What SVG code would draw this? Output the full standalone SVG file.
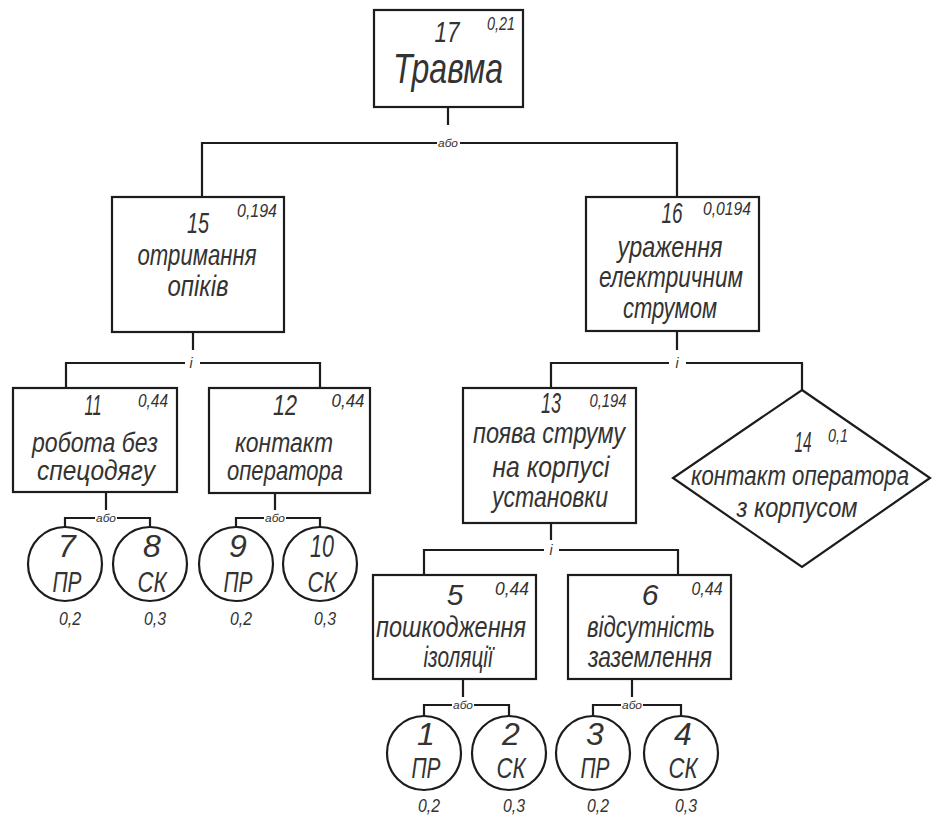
<svg xmlns="http://www.w3.org/2000/svg" width="934" height="816" viewBox="0 0 934 816">
  <style>
    .box { fill: #fff; stroke: #1c1c1c; stroke-width: 2.2; }
    .wire { fill: none; stroke: #1c1c1c; stroke-width: 2.2; }
    text { font-family: "Liberation Sans", "DejaVu Sans", sans-serif; font-style: italic; fill: #333; text-anchor: middle; }
    .num { font-size: 30px; }
    .cn { font-size: 32px; }
    .lbl { font-size: 29px; }
    .sm { font-size: 27px; }
    .p { font-size: 18px; }
    .pc { font-size: 19px; }
    .gate { font-size: 11px; }
    .and { font-size: 14px; }
  </style>
  <rect width="934" height="816" fill="#fff"/>

  <!-- connectors and gate labels -->
  <g id="connectors">
    <path class="wire" d="M448,107 V125 M202,197 V143 H437 M460,143 H677 V197"/>
    <text class="gate" x="448" y="147" textLength="20" lengthAdjust="spacingAndGlyphs">або</text>

    <path class="wire" d="M193,332 V350 M66,388 V363 H185 M200,363 H320 V388"/>
    <text class="and" x="191" y="368">і</text>

    <path class="wire" d="M677,331 V350 M551,388 V363 H669 M686,363 H802 V390"/>
    <text class="and" x="677" y="368">і</text>

    <path class="wire" d="M551,523 V540 M424,575 V550 H544 M559,550 H678 V575"/>
    <text class="and" x="551" y="555">і</text>

    <path class="wire" d="M106,492 V510 M65,527 V518 H95 M117,518 H150 V527"/>
    <text class="gate" x="106" y="522" textLength="20" lengthAdjust="spacingAndGlyphs">або</text>

    <path class="wire" d="M275,493 V510 M236,527 V518 H264 M286,518 H320 V527"/>
    <text class="gate" x="275" y="522" textLength="20" lengthAdjust="spacingAndGlyphs">або</text>

    <path class="wire" d="M463,679 V697 M424,716 V705 H452 M474,705 H509 V716"/>
    <text class="gate" x="463" y="709" textLength="20" lengthAdjust="spacingAndGlyphs">або</text>

    <path class="wire" d="M632,679 V697 M593,716 V705 H621 M643,705 H681 V716"/>
    <text class="gate" x="632" y="709" textLength="20" lengthAdjust="spacingAndGlyphs">або</text>
  </g>

  <!-- top event -->
  <g id="n17">
    <rect class="box" x="374" y="10" width="149" height="97"/>
    <text class="num" x="447" y="42" textLength="25" lengthAdjust="spacingAndGlyphs">17</text>
    <text class="p" x="501" y="30" font-size="17" textLength="28" lengthAdjust="spacingAndGlyphs">0,21</text>
    <text x="448" y="83" font-size="42" textLength="110" lengthAdjust="spacingAndGlyphs">Травма</text>
  </g>

  <g id="n15">
    <rect class="box" x="112" y="197" width="172" height="135"/>
    <text class="num" x="198" y="233" textLength="22" lengthAdjust="spacingAndGlyphs">15</text>
    <text class="p" x="257" y="217" textLength="40" lengthAdjust="spacingAndGlyphs">0,194</text>
    <text class="lbl" x="197" y="265" textLength="119" lengthAdjust="spacingAndGlyphs">отримання</text>
    <text class="lbl" x="198" y="296" textLength="61" lengthAdjust="spacingAndGlyphs">опіків</text>
  </g>

  <g id="n16">
    <rect class="box" x="586" y="197" width="173" height="134"/>
    <text class="num" x="672" y="223" textLength="21" lengthAdjust="spacingAndGlyphs">16</text>
    <text class="p" x="727" y="215" textLength="48" lengthAdjust="spacingAndGlyphs">0,0194</text>
    <text class="lbl" x="670" y="257" textLength="105" lengthAdjust="spacingAndGlyphs">ураження</text>
    <text class="lbl" x="671" y="287" textLength="144" lengthAdjust="spacingAndGlyphs">електричним</text>
    <text class="lbl" x="670" y="318" textLength="94" lengthAdjust="spacingAndGlyphs">струмом</text>
  </g>

  <g id="n11">
    <rect class="box" x="13" y="388" width="164" height="104"/>
    <text class="num" x="93" y="415" textLength="17" lengthAdjust="spacingAndGlyphs">11</text>
    <text class="p" x="153" y="407" textLength="30" lengthAdjust="spacingAndGlyphs">0,44</text>
    <text class="sm" x="95" y="452" textLength="126" lengthAdjust="spacingAndGlyphs">робота без</text>
    <text class="sm" x="96" y="480" textLength="118" lengthAdjust="spacingAndGlyphs">спецодягу</text>
  </g>

  <g id="n12">
    <rect class="box" x="209" y="388" width="161" height="105"/>
    <text class="num" x="285" y="415" textLength="24" lengthAdjust="spacingAndGlyphs">12</text>
    <text class="p" x="348" y="407" textLength="33" lengthAdjust="spacingAndGlyphs">0,44</text>
    <text class="sm" x="284" y="452" textLength="98" lengthAdjust="spacingAndGlyphs">контакт</text>
    <text class="sm" x="285" y="480" textLength="116" lengthAdjust="spacingAndGlyphs">оператора</text>
  </g>

  <g id="n13">
    <rect class="box" x="463" y="388" width="173" height="135"/>
    <text class="num" x="551" y="413" textLength="20" lengthAdjust="spacingAndGlyphs">13</text>
    <text class="p" x="608" y="407" textLength="37" lengthAdjust="spacingAndGlyphs">0,194</text>
    <text class="lbl" x="549" y="443" textLength="152" lengthAdjust="spacingAndGlyphs">поява струму</text>
    <text class="lbl" x="551" y="477" textLength="117" lengthAdjust="spacingAndGlyphs">на корпусі</text>
    <text class="lbl" x="550" y="507" textLength="116" lengthAdjust="spacingAndGlyphs">установки</text>
  </g>

  <g id="n14">
    <polygon class="box" points="802,390 930,478 802,567 673,478"/>
    <text class="num" x="803" y="452" textLength="17" lengthAdjust="spacingAndGlyphs">14</text>
    <text class="p" x="838" y="442" textLength="20" lengthAdjust="spacingAndGlyphs">0,1</text>
    <text class="sm" x="800" y="485" textLength="218" lengthAdjust="spacingAndGlyphs">контакт оператора</text>
    <text class="sm" x="797" y="517" textLength="121" lengthAdjust="spacingAndGlyphs">з корпусом</text>
  </g>

  <g id="n5">
    <rect class="box" x="373" y="575" width="163" height="104"/>
    <text class="num" x="455" y="605">5</text>
    <text class="p" x="512" y="595" textLength="34" lengthAdjust="spacingAndGlyphs">0,44</text>
    <text class="lbl" x="451" y="637" textLength="150" lengthAdjust="spacingAndGlyphs">пошкодження</text>
    <text class="lbl" x="458" y="667" textLength="69" lengthAdjust="spacingAndGlyphs">ізоляції</text>
  </g>

  <g id="n6">
    <rect class="box" x="568" y="575" width="163" height="104"/>
    <text class="num" x="650" y="605">6</text>
    <text class="p" x="707" y="595" textLength="31" lengthAdjust="spacingAndGlyphs">0,44</text>
    <text class="lbl" x="651" y="637" textLength="128" lengthAdjust="spacingAndGlyphs">відсутність</text>
    <text class="lbl" x="650" y="667" textLength="124" lengthAdjust="spacingAndGlyphs">заземлення</text>
  </g>

  <!-- basic events -->
  <g id="n7">
    <circle class="box" cx="65" cy="564" r="37"/>
    <text class="cn" x="67" y="557">7</text>
    <text class="lbl" x="67" y="592" textLength="29" lengthAdjust="spacingAndGlyphs">ПР</text>
    <text class="pc" x="70" y="625" textLength="22" lengthAdjust="spacingAndGlyphs">0,2</text>
  </g>
  <g id="n8">
    <circle class="box" cx="150" cy="564" r="37"/>
    <text class="cn" x="152" y="557">8</text>
    <text class="lbl" x="152" y="592" textLength="29" lengthAdjust="spacingAndGlyphs">СК</text>
    <text class="pc" x="155" y="625" textLength="22" lengthAdjust="spacingAndGlyphs">0,3</text>
  </g>
  <g id="n9">
    <circle class="box" cx="236" cy="564" r="37"/>
    <text class="cn" x="238" y="557">9</text>
    <text class="lbl" x="238" y="592" textLength="29" lengthAdjust="spacingAndGlyphs">ПР</text>
    <text class="pc" x="241" y="625" textLength="22" lengthAdjust="spacingAndGlyphs">0,2</text>
  </g>
  <g id="n10">
    <circle class="box" cx="320" cy="564" r="37"/>
    <text class="cn" x="322" y="557" textLength="24" lengthAdjust="spacingAndGlyphs">10</text>
    <text class="lbl" x="322" y="592" textLength="29" lengthAdjust="spacingAndGlyphs">СК</text>
    <text class="pc" x="325" y="625" textLength="22" lengthAdjust="spacingAndGlyphs">0,3</text>
  </g>
  <g id="n1">
    <circle class="box" cx="424" cy="753" r="37"/>
    <text class="cn" x="426" y="745">1</text>
    <text class="lbl" x="426" y="778" textLength="29" lengthAdjust="spacingAndGlyphs">ПР</text>
    <text class="pc" x="429" y="812" textLength="22" lengthAdjust="spacingAndGlyphs">0,2</text>
  </g>
  <g id="n2">
    <circle class="box" cx="509" cy="753" r="37"/>
    <text class="cn" x="511" y="745">2</text>
    <text class="lbl" x="511" y="778" textLength="29" lengthAdjust="spacingAndGlyphs">СК</text>
    <text class="pc" x="514" y="812" textLength="22" lengthAdjust="spacingAndGlyphs">0,3</text>
  </g>
  <g id="n3">
    <circle class="box" cx="593" cy="753" r="37"/>
    <text class="cn" x="595" y="745">3</text>
    <text class="lbl" x="595" y="778" textLength="29" lengthAdjust="spacingAndGlyphs">ПР</text>
    <text class="pc" x="598" y="812" textLength="22" lengthAdjust="spacingAndGlyphs">0,2</text>
  </g>
  <g id="n4">
    <circle class="box" cx="681" cy="753" r="37"/>
    <text class="cn" x="683" y="745">4</text>
    <text class="lbl" x="683" y="778" textLength="29" lengthAdjust="spacingAndGlyphs">СК</text>
    <text class="pc" x="686" y="812" textLength="22" lengthAdjust="spacingAndGlyphs">0,3</text>
  </g>
</svg>
